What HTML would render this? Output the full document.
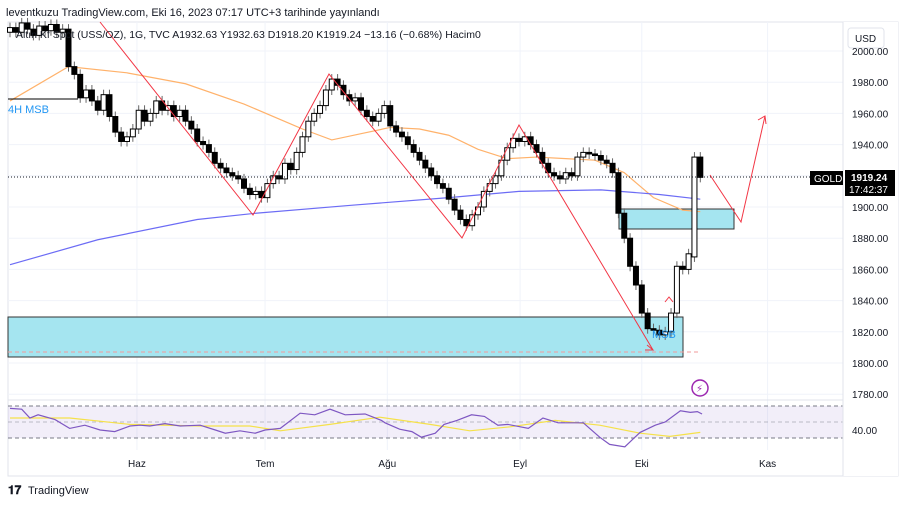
<!DOCTYPE html>
<html><head><meta charset="utf-8">
<style>
html,body{margin:0;padding:0;background:#fff;}
body{width:908px;height:506px;overflow:hidden;font-family:"Liberation Sans","DejaVu Sans",sans-serif;}
svg text{font-family:"Liberation Sans","DejaVu Sans",sans-serif;}
</style></head>
<body>
<svg id="chart" width="908" height="506" xmlns="http://www.w3.org/2000/svg">
<text x="6" y="16" font-size="11" fill="#131722">leventkuzu TradingView.com, Eki 16, 2023 07:17 UTC+3 tarihinde yayınlandı</text>
<rect x="8" y="22" width="890" height="454" fill="none" stroke="#e0e3eb"/>
<g id="grid"></g>
<rect x="8" y="406" width="835" height="32" fill="#7e57c2" fill-opacity="0.1"/>
<line x1="8" y1="406" x2="843" y2="406" stroke="#787b86" stroke-dasharray="4,3"/>
<line x1="8" y1="422" x2="843" y2="422" stroke="#9598a1" stroke-dasharray="4,3" stroke-opacity="0.6"/>
<line x1="8" y1="438" x2="843" y2="438" stroke="#787b86" stroke-dasharray="4,3"/>
<line x1="8" y1="400" x2="898" y2="400" stroke="#e0e3eb"/>
<rect x="8" y="317" width="675" height="40" fill="#a5e5f0" stroke="#333"/>
<rect x="619" y="209" width="115" height="20" fill="#a5e5f0" stroke="#333"/>
<line x1="8" y1="352" x2="700" y2="352" stroke="#f29b9b" stroke-dasharray="4,3"/>
<g id="ma"></g>
<g id="candles"></g>
<line x1="8" y1="99" x2="78" y2="99" stroke="#000"/>
<text x="8" y="113" font-size="11" fill="#2196f3">4H MSB</text>
<text x="652" y="338" font-size="11" fill="#2196f3">MSB</text>
<polyline points="100,22 253,215 329,74 462,238 519,125 653,350" fill="none" stroke="#f23645" stroke-width="1"/>
<polyline points="647,345 653,350 645,350" fill="none" stroke="#f23645"/>
<polyline points="710,175 741,222 765,116" fill="none" stroke="#f23645"/>
<polyline points="758,120 765,116 766,124" fill="none" stroke="#f23645"/>
<polyline points="665,302 669,297 673,302" fill="none" stroke="#f23645"/>
<line x1="8" y1="177" x2="810" y2="177" stroke="#131722" stroke-dasharray="1,2"/>
<text x="16" y="38" font-size="10.5" fill="#131722">Altın Kf Spot (USS/OZ), 1G, TVC  A1932.63  Y1932.63  D1918.20  K1919.24  −13.16 (−0.68%)  Hacim0</text>
<rect x="843" y="22" width="55" height="454" fill="#fff"/>
<line x1="843" y1="22" x2="843" y2="476" stroke="#e0e3eb"/>
<rect x="848" y="28" width="36" height="20" rx="3" fill="#fff" stroke="#e0e3eb"/>
<text x="855" y="42" font-size="10" fill="#131722">USD</text>
<g id="axis"></g>
<rect x="810" y="171" width="33" height="14" fill="#000"/>
<text x="814" y="182" font-size="10" fill="#fff">GOLD</text>
<rect x="845" y="170" width="50" height="26" fill="#000"/>
<text x="851" y="181" font-size="10" fill="#fff" font-weight="bold">1919.24</text>
<text x="849" y="193" font-size="10" fill="#fff">17:42:37</text>
<text x="852" y="434" font-size="10" fill="#131722">40.00</text>
<circle cx="700" cy="388" r="8" fill="none" stroke="#9c27b0" stroke-width="1.5"/>
<text x="696" y="392" font-size="10" fill="#9c27b0">⚡</text>
<g id="rsi"></g>
<g id="xaxis"></g>
<text x="8" y="494" font-size="12" font-weight="bold" fill="#131722">𝟏𝟕</text>
<text x="28" y="494" font-size="11" fill="#131722">TradingView</text>
</svg>
<script>
const closes=[2015,2012,2018,2014,2010,2016,2013,2017,2012,2014,
1990,1985,1970,1975,1968,1962,1972,1958,1948,1942,
1945,1950,1962,1955,1960,1968,1962,1965,1958,1962,
1955,1950,1942,1940,1935,1928,1925,1922,1920,1918,
1912,1908,1910,1906,1915,1920,1918,1928,1924,1935,
1945,1955,1960,1965,1975,1982,1978,1972,1968,1970,
1962,1958,1955,1960,1965,1952,1948,1945,1940,1935,
1930,1925,1920,1915,1912,1905,1898,1892,1888,1895,
1900,1910,1915,1920,1930,1938,1944,1942,1945,1940,
1935,1928,1922,1920,1918,1922,1920,1932,1935,1934,
1933,1930,1928,1922,1896,1880,1862,1850,1832,1822,
1821,1818,1820,1832,1862,1860,1870,1932,1919];
const opens=[2012,2015,2012,2018,2014,2010,2016,2013,2017,2012,
2014,1990,1985,1970,1975,1968,1962,1972,1958,1948,
1942,1945,1950,1962,1955,1960,1968,1962,1965,1958,
1962,1955,1950,1942,1940,1935,1928,1925,1922,1920,
1918,1912,1908,1910,1906,1915,1920,1918,1928,1924,
1935,1945,1955,1960,1965,1975,1982,1978,1972,1968,
1970,1962,1958,1955,1960,1965,1952,1948,1945,1940,
1935,1930,1925,1920,1915,1912,1905,1898,1892,1888,
1895,1900,1910,1915,1920,1930,1938,1944,1942,1945,
1940,1935,1928,1922,1920,1918,1922,1920,1932,1935,
1934,1933,1930,1928,1922,1896,1880,1862,1850,1832,
1822,1821,1818,1820,1832,1862,1860,1868,1932];
const fastIdx=[0,10,20,30,40,50,55,60,65,70,75,80,85,90,95,100,105,110,115,118];
const fastMA=[1968,1990,1986,1979,1966,1950,1943,1947,1951,1950,1946,1937,1931,1932,1931,1930,1922,1906,1898,1897];
const slowIdx=[0,15,32,42,58,75,87,101,111,118];
const slowMA=[1863,1879,1892,1896,1901,1906,1910,1911,1908,1905];
const rsiIdx=[0,2,3.4,4.8,7.7,10.2,12.8,15.4,17.9,20.5,22.2,23.9,26.5,29.1,32.5,35.1,36.8,39.3,41.9,43.6,46.2,49.6,52.1,54.7,57.3,60.7,63.5,64.1,66.6,68.7,70.3,72.7,74.2,76.4,78.9,81.1,83.4,85.1,88.6,91.1,93.7,95.4,98.0,100.8,102.5,105.1,107.7,110.3,112,114.6,116.3,117.5,118.3];
const rsiVals=[67,66,55,59,53,42,46,40,38,45,46,45,48,45,46,40,36,39,36,40,42,61,59,66,59,60,52,49,41,38,31,36,47,52,59,57,46,47,42,55,49,49,49,31,22,19,37,46,50,64,62,63,60];
const rsiMaIdx=[0,10.2,20.5,32.5,41,46.2,54.7,63.2,71.8,78.6,85.5,93.2,100.8,107.7,112.8,118];
const rsiMaVals=[55,55,47,45,45,39,47,56,47,39,44,52,46,36,32,37];
const priceTicks=[2000,1980,1960,1940,1920,1900,1880,1860,1840,1820,1800,1780];
const months=["Haz","Tem","Ağu","Eyl","Eki","Kas"];
const monthIdx=[21.7,43.6,64.5,87.2,108,129.5];

const NS="http://www.w3.org/2000/svg";
function xOf(i){return 10+i*5.85;}
function yOf(p){return 207-(p-1900)*1.56;}
function rsiY(v){return 422-(v-50)*0.8;}
function mk(tag,attrs,parent){const e=document.createElementNS(NS,tag);for(const k in attrs)e.setAttribute(k,attrs[k]);parent.appendChild(e);return e;}

const grid=document.getElementById('grid');
priceTicks.forEach(p=>{
  const l=mk('line',{x1:8,x2:843,y1:yOf(p),y2:yOf(p),stroke:'#f0f3fa'},grid);
  
  
});
monthIdx.forEach(i=>{
  const l=mk('line',{x1:xOf(i),x2:xOf(i),y1:22,y2:450,stroke:'#f0f3fa'},grid);
  
  
});

const cg=document.getElementById('candles');
closes.forEach((c,i)=>{
  const o=opens[i];const x=xOf(i);
  const top=yOf(Math.max(o,c)),bot=yOf(Math.min(o,c));
  const w=mk('line',{x1:x,x2:x,y1:top-5,y2:bot+5,stroke:'#666'},cg);
  
  
  const r=mk('rect',{x:x-2.5,y:top,width:5,height:Math.max(1,bot-top),fill:c>=o?'#fff':'#000',stroke:'#000','stroke-width':1},cg);
  
  
});

const mg=document.getElementById('ma');
const fp=mk('polyline',{points:fastIdx.map((i,k)=>xOf(i)+','+yOf(fastMA[k])).join(' '),fill:'none',stroke:'#ffb26b','stroke-width':1.2},mg);


const sp=mk('polyline',{points:slowIdx.map((i,k)=>xOf(i)+','+yOf(slowMA[k])).join(' '),fill:'none',stroke:'#6c6cf5','stroke-width':1.2},mg);



const rg=document.getElementById('rsi');
const rm=mk('polyline',{points:rsiMaIdx.map((i,k)=>xOf(i)+','+rsiY(rsiMaVals[k])).join(' '),fill:'none',stroke:'#f5e14a','stroke-width':1.2},rg);


const rl=mk('polyline',{points:rsiIdx.map((i,k)=>xOf(i)+','+rsiY(rsiVals[k])).join(' '),fill:'none',stroke:'#7e57c2','stroke-width':1.2},rg);



const ag=document.getElementById('axis');
priceTicks.forEach(p=>{
  const t=mk('text',{x:852,y:yOf(p)+4,'font-size':10,fill:'#131722'},ag);
  t.textContent=p.toFixed(2);
  
  
});
const xg=document.getElementById('xaxis');
months.forEach((m,k)=>{
  const t=mk('text',{x:xOf(monthIdx[k]),y:467,'font-size':10,fill:'#131722','text-anchor':'middle'},xg);
  t.textContent=m;
  
  
});
</script>
</body></html>
